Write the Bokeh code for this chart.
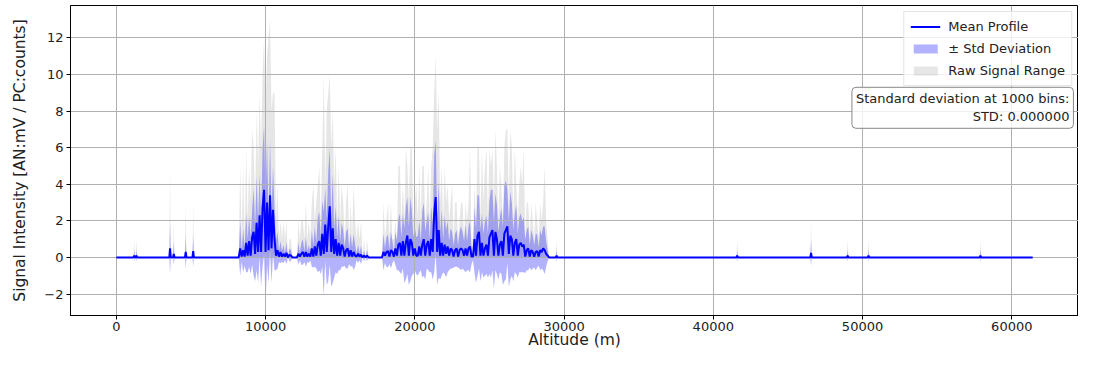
import numpy as np
from bokeh.plotting import figure
from bokeh.models import Range1d, FixedTicker, Legend, LegendItem, Label
from bokeh.embed import file_html
from bokeh.resources import INLINE

# ---------------- data ----------------
ALT_MIN, ALT_MAX = 0, 61400
SEG_START, SEG_STEP = 8200, 100   # active layer 8200 .. 29000 m, 100 m bins

MEAN_SEG = [
    0.0, 0.5, 0.05, 0.4, 0.05, 0.8, 0.1, 0.9, 0.1, 1.1,    # 8200-9100
    1.4, 0.2, 1.9, 0.3, 2.3, 0.3, 2.7, 3.7, 0.3, 3.0,      # 9200-10100
    0.4, 3.4, 0.5, 2.6, 1.0, 0.1, 0.4, 0.05, 0.3, 0.05,    # 10200-11100
    0.2, 0.05, 0.25, 0.0, 0.15, 0.1, 0.0, 0.0, 0.0, 0.0,   # 11200-12100
    0.2, 0.05, 0.2, 0.3, 0.05, 0.3, 0.05, 0.2, 0.05, 0.5,  # 12200-13100
    0.05, 0.6, 0.1, 0.7, 0.9, 0.1, 1.3, 0.2, 1.8, 0.3,     # 13200-14100
    1.7, 2.8, 0.3, 1.6, 0.2, 1.0, 0.1, 0.8, 0.1, 0.7,      # 14200-15100
    0.5, 0.05, 0.4, 0.5, 0.05, 0.4, 0.05, 0.3, 0.1, 0.05,  # 15200-16100
    0.2, 0.05, 0.15, 0.0, 0.1, 0.0, 0.1, 0.0, 0.0, 0.0,    # 16200-17100
    0.0, 0.0, 0.0, 0.0, 0.0, 0.0, 0.0, 0.3, 0.1, 0.3,      # 17200-18100
    0.35, 0.05, 0.4, 0.3, 0.05, 0.5, 0.1, 0.7, 0.8, 0.1,   # 18200-19100
    0.9, 0.1, 0.8, 1.2, 0.1, 1.0, 0.8, 0.1, 0.5, 0.1,      # 19200-20100
    0.1, 0.6, 0.1, 0.7, 1.0, 0.1, 0.7, 0.9, 0.1, 1.0,      # 20200-21100
    0.3, 2.4, 3.3, 0.3, 1.5, 0.1, 0.8, 0.1, 0.7, 0.2,      # 21200-22100
    0.6, 0.1, 0.5, 0.4, 0.05, 0.4, 0.5, 0.05, 0.4, 0.5,    # 22200-23100
    0.4, 0.1, 0.5, 0.1, 0.5, 0.6, 0.05, 0.05, 1.0, 0.1,    # 23200-24100
    1.2, 1.4, 0.1, 0.8, 0.1, 0.5, 0.7, 0.1, 1.1, 1.3,      # 24200-25100
    1.5, 0.1, 1.4, 1.0, 0.1, 0.7, 0.9, 0.1, 1.3, 1.5,      # 25200-26100
    1.7, 0.2, 1.2, 1.0, 0.1, 0.8, 1.0, 0.1, 0.7, 0.8,      # 26200-27100
    0.6, 0.7, 0.05, 0.4, 0.5, 0.05, 0.4, 0.3, 0.05, 0.3,   # 27200-28100
    0.35, 0.05, 0.4, 0.3, 0.5, 0.4, 0.2, 0.1, 0.0,         # 28200-29000
]
STD_SEG = [
    0.0, 1.5, 0.3, 1.2, 0.5, 1.6, 0.9, 1.4, 1.0, 1.5,
    2.4, 1.5, 2.6, 1.7, 2.3, 1.9, 3.2, 3.5, 2.9, 3.4,
    1.8, 3.0, 1.9, 2.4, 1.7, 0.8, 1.0, 0.3, 0.6, 0.3,
    0.5, 0.2, 0.6, 0.0, 0.35, 0.3, 0.0, 0.0, 0.0, 0.0,
    0.6, 0.2, 0.6, 0.7, 0.3, 0.8, 0.3, 0.5, 0.2, 1.0,
    0.6, 1.1, 0.7, 1.5, 1.6, 1.0, 1.8, 2.3, 2.0, 1.8,
    3.0, 3.2, 1.9, 3.0, 1.3, 1.8, 1.0, 1.5, 0.8, 1.2,
    1.0, 0.5, 1.0, 1.1, 0.4, 0.9, 0.5, 1.0, 0.6, 0.2,
    0.5, 0.2, 0.5, 0.0, 0.3, 0.0, 0.3, 0.0, 0.0, 0.0,
    0.0, 0.0, 0.0, 0.0, 0.0, 0.0, 0.0, 1.0, 0.4, 0.8,
    0.9, 0.4, 1.0, 0.6, 0.2, 0.9, 0.8, 1.4, 1.6, 1.0,
    1.5, 1.5, 2.0, 2.1, 1.6, 2.3, 1.8, 1.0, 1.2, 1.0,
    1.1, 1.4, 0.8, 1.8, 2.0, 1.3, 1.3, 1.6, 0.9, 1.8,
    1.5, 3.2, 3.1, 1.8, 2.6, 1.3, 1.8, 0.9, 1.6, 1.3,
    1.4, 0.8, 1.1, 1.0, 0.6, 0.9, 1.0, 0.6, 1.0, 1.2,
    1.0, 0.8, 1.3, 0.8, 1.2, 1.4, 0.4, 0.2, 1.8, 1.5,
    2.2, 2.0, 1.4, 1.6, 1.2, 1.5, 1.6, 1.2, 2.0, 2.4,
    2.2, 1.8, 2.1, 1.9, 1.3, 1.5, 1.8, 1.6, 2.6, 2.7,
    2.0, 1.8, 2.4, 2.0, 1.4, 1.6, 1.9, 1.2, 1.5, 1.6,
    1.4, 1.5, 0.9, 1.1, 1.2, 0.6, 1.1, 0.9, 0.6, 1.0,
    0.9, 0.5, 1.1, 0.9, 1.2, 1.3, 0.7, 0.3, 0.0,
]
RAW_SEG = [
    0, 5, 1, 5, 1, 6, 2, 5, 3, 7,
    6, 3, 8, 5, 9, 6, 10, 12, 8, 11,
    12, 13, 8, 9, 9, 2, 4, 1, 2, 1,
    2, 1, 2, 0, 1, 1, 0, 0, 0, 0,
    2, 1, 2, 2, 1, 3, 1, 2, 1, 3,
    4, 2, 3, 4, 5, 2, 6, 10, 4, 8,
    9, 10, 6, 8, 4, 6, 2, 5, 2, 4,
    3, 1, 3, 4, 1, 3, 1, 4, 2, 1,
    2, 1, 2, 0, 1, 0, 1, 0, 0, 0,
    0, 0, 0, 0, 0, 0, 0, 3, 1, 2,
    3, 1, 3, 1, 1, 2, 1, 5, 5, 2,
    4, 2, 6, 5, 3, 6, 6, 2, 3, 4,
    2, 5, 2, 5, 5, 2, 3, 5, 2, 5,
    6, 9, 11, 7, 9, 3, 5, 2, 5, 3,
    4, 2, 3, 4, 1, 3, 3, 1, 2, 3,
    3, 1, 3, 2, 3, 6, 1, 1, 4, 2,
    6, 6, 2, 6, 3, 5, 6, 2, 6, 5,
    6, 3, 7, 5, 2, 5, 4, 2, 6, 7,
    7, 3, 7, 6, 2, 6, 4, 2, 4, 5,
    4, 6, 1, 3, 3, 1, 3, 2, 1, 3,
    2, 1, 3, 2, 3, 5, 2, 1, 0,
]

# isolated single-bin returns outside the main layer
SPIKE_ALT = [1200, 1350, 3600, 3850, 4650, 5150, 29500, 41600, 46550, 49000, 50400, 57900]
SPIKE_MEAN = [0.1, 0.1, 0.5, 0.2, 0.3, 0.35, 0.1, 0.1, 0.25, 0.1, 0.1, 0.1]
SPIKE_STD = [0.3, 0.3, 1.4, 0.6, 0.9, 0.85, 0.3, 0.3, 0.7, 0.3, 0.3, 0.3]
SPIKE_RAW = [1, 1, 5, 2, 3, 3, 1, 1, 2, 1, 1, 1]

X_TICKS = [0, 10000, 20000, 30000, 40000, 50000, 60000]
Y_TICKS = [-2, 0, 2, 4, 6, 8, 10, 12]

# ---------------- assemble profile ----------------
pts = [(ALT_MIN, 0.0, 0.0, 0.0), (ALT_MAX, 0.0, 0.0, 0.0)]
seg_alt = SEG_START + SEG_STEP * np.arange(len(MEAN_SEG))
for a, m, s, r in zip(seg_alt, MEAN_SEG, STD_SEG, RAW_SEG):
    pts.append((float(a), m, s, r))
for a, m, s, r in zip(SPIKE_ALT, SPIKE_MEAN, SPIKE_STD, SPIKE_RAW):
    pts.append((a - 50.0, 0.0, 0.0, 0.0))
    pts.append((float(a), m, s, r))
    pts.append((a + 50.0, 0.0, 0.0, 0.0))
pts.sort(key=lambda t: t[0])
alt = np.array([t[0] for t in pts])
mean = np.array([t[1] for t in pts])
std = np.array([t[2] for t in pts])
raw_max = np.array([t[3] for t in pts], dtype=float)
raw_min = np.zeros_like(raw_max)

FONT = "DejaVu Sans"
X0, X1 = -3070, 64470
Y0, Y1 = -3.17, 13.77

p = figure(width=1078, height=351, output_backend="svg", toolbar_location=None,
           x_range=Range1d(X0, X1), y_range=Range1d(Y0, Y1),
           min_border_left=70, min_border_right=0, min_border_top=5, min_border_bottom=36)
p.background_fill_color = "white"
p.border_fill_color = "white"
p.outline_line_color = "black"
p.outline_line_width = 1

r_raw = p.varea(x=alt, y1=raw_min, y2=raw_max, fill_color="gray", fill_alpha=0.2, level="underlay")
r_std = p.varea(x=alt, y1=mean - std, y2=mean + std, fill_color="blue", fill_alpha=0.3, level="underlay")
r_mean = p.line(x=alt, y=mean, line_color="blue", line_width=2, level="annotation")

p.xaxis.ticker = FixedTicker(ticks=X_TICKS)
p.yaxis.ticker = FixedTicker(ticks=Y_TICKS)
p.yaxis.major_label_overrides = {-2: "\u22122"}
for ax in (p.xaxis[0], p.yaxis[0]):
    ax.major_label_text_font = FONT
    ax.major_label_text_font_size = "13px"
    ax.major_label_text_color = "#222222"
    ax.axis_label_text_font = FONT
    ax.axis_label_text_font_size = "15.5px"
    ax.axis_label_text_font_style = "normal"
    ax.axis_label_text_color = "#222222"
    ax.minor_tick_line_color = None
    ax.major_tick_in = 0
    ax.major_tick_out = 4
    ax.major_tick_line_color = "black"
    ax.axis_line_color = "black"
p.xaxis.major_label_standoff = 2
p.yaxis.major_label_standoff = 3
p.xaxis.axis_label = "Altitude (m)"
p.xaxis.axis_label_standoff = -3
p.yaxis.axis_label = "Signal Intensity [AN:mV / PC:counts]"
p.yaxis.axis_label_standoff = 12

p.grid.grid_line_color = "#b0b0b0"
p.grid.grid_line_width = 1
p.grid.level = "glyph"

legend = Legend(items=[
    LegendItem(label="Mean Profile", renderers=[r_mean]),
    LegendItem(label="\u00b1 Std Deviation", renderers=[r_std]),
    LegendItem(label="Raw Signal Range", renderers=[r_raw]),
], location="top_right")
legend.label_text_font = FONT
legend.label_text_font_size = "13px"
legend.label_text_color = "#222222"
legend.glyph_width = 30
legend.glyph_height = 11
legend.label_height = 17
legend.spacing = 5
legend.padding = 6
legend.margin = 6
legend.label_standoff = 8
legend.border_line_color = "#cccccc"
legend.border_line_width = 1
legend.background_fill_alpha = 0.8
p.add_layout(legend)

box = Label(x=64130, y=9.3, text="Standard deviation at 1000 bins:\nSTD: 0.000000",
            text_align="right", text_baseline="top",
            text_font=FONT, text_font_size="13px", text_color="#222222",
            background_fill_color="white", background_fill_alpha=0.8,
            border_line_color="#888888", border_line_width=1,
            padding=4, border_radius=4)
p.add_layout(box)

open("out.html", "w").write(file_html(p, INLINE))
